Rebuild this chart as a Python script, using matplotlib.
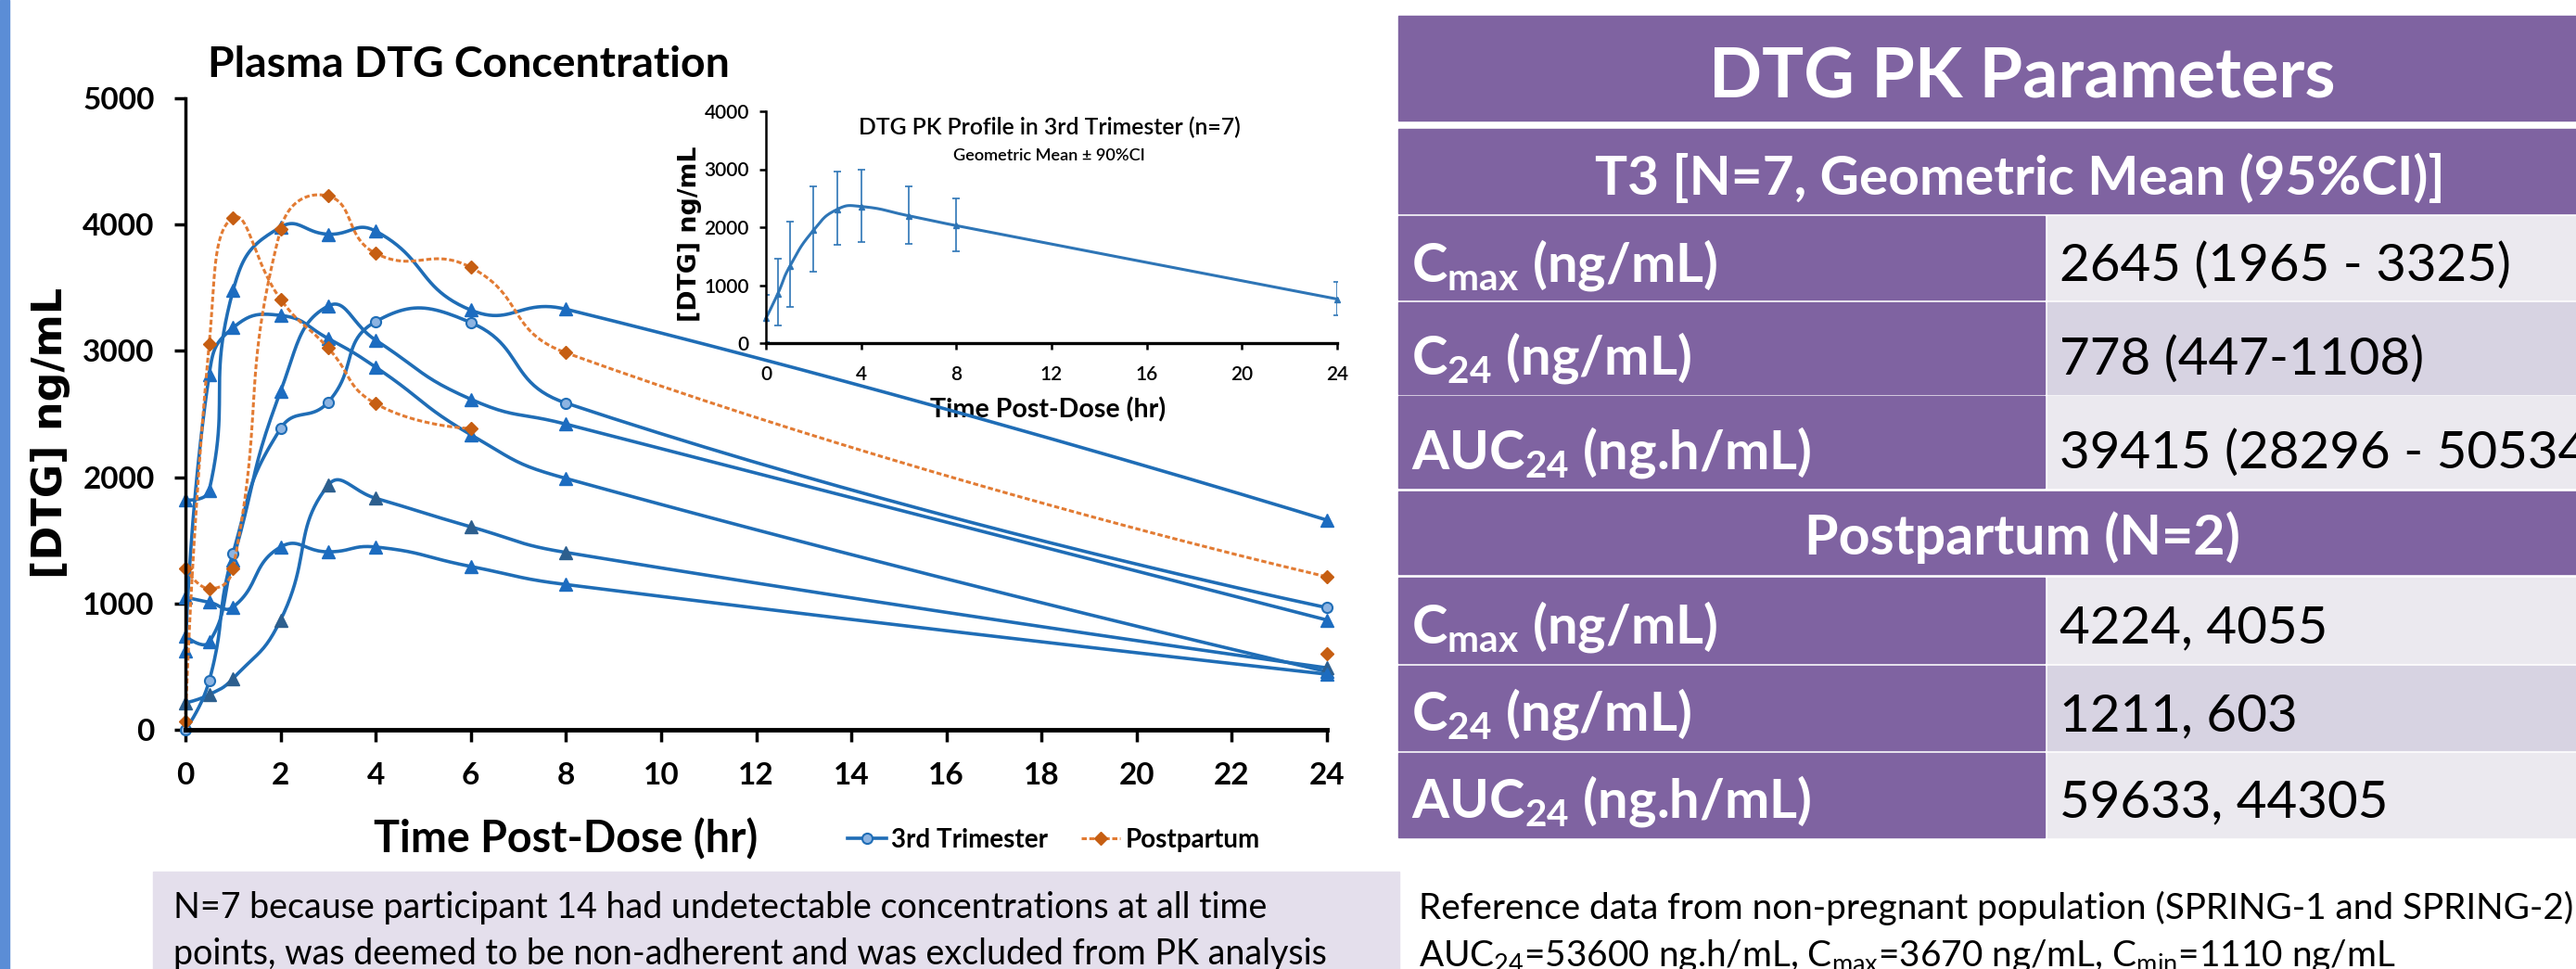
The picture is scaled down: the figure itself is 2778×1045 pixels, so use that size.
import numpy as np
import matplotlib.pyplot as plt
from matplotlib.patches import Rectangle

W, H = 2778, 1045
plt.rcParams['font.family'] = ['Lato', 'DejaVu Sans']

# ---- data
hours = [0, 0.5, 1, 2, 3, 4, 6, 8, 24]

# individual 3rd trimester profiles (ng/mL)
t3_circle = [0, 388, 1396, 2385, 2594, 3232, 3224, 2587, 967]
t3_triangles = [
    [1820, 1897, 3477, 3980, 3924, 3948, 3323, 3330, 1660],
    [625, 2815, 3183, 3281, 3098, 2871, 2336, 1990, 460],
    [740, 694, 1344, 2680, 3355, 3085, 2617, 2420, 869],
    [213, 278, 406, 869, 1936, 1833, 1607, 1404, 490],
    [1049, 1010, 972, 1447, 1409, 1447, 1293, 1150, 440],
]
# postpartum profiles (second one has no 8 h sample)
postpartum = [
    [1280, 1118, 1275, 3963, 4226, 3772, 3661, 2985, 1211],
    [64, 3055, 4054, 3409, 3023, 2582, 2385, np.nan, 603],
]

# inset: geometric mean and 90% CI
gm_t3 = [427, 853, 1323, 1947, 2309, 2357, 2197, 2027, 760]
ci_low = [20, 309, 629, 1237, 1701, 1744, 1712, 1584, 485]
ci_high = [827, 1456, 2090, 2704, 2960, 2987, 2704, 2501, 1051]

# table
table_title = "DTG PK Parameters"
group_titles = ["T3 [N=7, Geometric Mean (95%CI)]", "Postpartum (N=2)"]
param_labels = ["C$_\\mathregular{max}$ (ng/mL)", "C$_\\mathregular{24}$ (ng/mL)",
                "AUC$_\\mathregular{24}$ (ng.h/mL)"]
t3_values = ["2645 (1965 - 3325)", "778 (447-1108)", "39415 (28296 - 50534)"]
pp_values = ["4224, 4055", "1211, 603", "59633, 44305"]

note_left = ["N=7 because participant 14 had undetectable concentrations at all time",
             "points, was deemed to be non-adherent and was excluded from PK analysis"]
note_right = ["Reference data from non-pregnant population (SPRING-1 and SPRING-2)",
              "AUC$_\\mathregular{24}$=53600 ng.h/mL, C$_\\mathregular{max}$=3670 ng/mL, "
              "C$_\\mathregular{min}$=1110 ng/mL"]

BLUE = '#1F6DB6'
TRI = ['#1C6CC0', '#1C6CC0', '#1C6CC0', '#2D5F8E', '#1C6CC0']
ORANGE = '#E27B33'
ORANGE_MK = '#C65E12'
PURPLE = '#7F63A1'
CELL1 = '#EBE9EF'
CELL2 = '#D7D3E2'


def excel_smooth(x, y, sx, sy, n=24, tension=0.5):
    # bezier through the points, control arms scaled by segment length (pixel space)
    x = np.asarray(x, float)
    y = np.asarray(y, float)
    runs, cur = [], []
    for i in range(len(x)):
        if np.isnan(y[i]):
            if cur:
                runs.append(cur)
            cur = []
        else:
            cur.append(i)
    if cur:
        runs.append(cur)
    xs, ys, marks = [], [], []
    for run in runs:
        P = np.column_stack([x[run] * sx, y[run] * sy])
        m = len(P)
        before = P.copy()
        after = P.copy()
        for i in range(1, m - 1):
            d1 = np.hypot(*(P[i] - P[i - 1]))
            d2 = np.hypot(*(P[i + 1] - P[i]))
            T = P[i + 1] - P[i - 1]
            before[i] = P[i] - T * tension * d1 / (d1 + d2)
            after[i] = P[i] + T * tension * d2 / (d1 + d2)
        if xs:
            xs.append(np.nan)
            ys.append(np.nan)
        marks.append(len(xs))
        xs.append(x[run[0]])
        ys.append(y[run[0]])
        t = np.linspace(0, 1, n + 1)[1:, None]
        for i in range(m - 1):
            B = ((1 - t)**3 * P[i] + 3 * (1 - t)**2 * t * after[i]
                 + 3 * (1 - t) * t**2 * before[i + 1] + t**3 * P[i + 1])
            xs.extend(B[:, 0] / sx)
            ys.extend(B[:, 1] / sy)
            marks.append(len(xs) - 1)
    return np.array(xs), np.array(ys), marks


def px_box(x0, y0, x1, y1):
    return [x0 / W, 1 - y1 / H, (x1 - x0) / W, (y1 - y0) / H]


fig = plt.figure(figsize=(W / 100, H / 100), dpi=100)
bg = fig.add_axes([0, 0, 1, 1], zorder=0)
bg.set_xlim(0, W)
bg.set_ylim(H, 0)
bg.axis('off')
rend = fig.canvas.get_renderer()


def fit(txt, width, vertical=False):
    bb = txt.get_window_extent(rend)
    w = bb.height if vertical else bb.width
    txt.set_fontsize(txt.get_fontsize() * width / w)
    return txt


# ---- main plot
ax = fig.add_axes(px_box(200, 106, 1431, 787), zorder=1)
ax.patch.set_alpha(0)
sx, sy = 1231 / 24, 681 / 5000
for vals, mc in zip(t3_triangles, TRI):
    xs, ys, mk = excel_smooth(hours, vals, sx, sy)
    ax.plot(xs, ys, color=BLUE, lw=2.6, marker='^', ms=10, mfc=mc, mec=mc,
            markevery=mk, clip_on=False)
xs, ys, mk = excel_smooth(hours, t3_circle, sx, sy)
h_t3, = ax.plot(xs, ys, color=BLUE, lw=2.6, marker='o', ms=8, mfc='#8DB4E2',
                mec=BLUE, mew=1.5, markevery=mk, clip_on=False, label='3rd Trimester')
h_pp = None
for vals in postpartum:
    xs, ys, mk = excel_smooth(hours, vals, sx, sy)
    ln, = ax.plot(xs, ys, color=ORANGE, lw=2.2, ls=(0, (1.8, 0.9)), marker='D', ms=7,
                  mfc=ORANGE_MK, mec=ORANGE_MK, markevery=mk, clip_on=False,
                  label='Postpartum')
    if h_pp is None:
        h_pp = ln

ax.set_xlim(0, 24)
ax.set_ylim(0, 5000)
ax.set_xticks(range(0, 25, 2))
ax.set_yticks(range(0, 5001, 1000))
for s in ['top', 'right']:
    ax.spines[s].set_visible(False)
ax.spines['left'].set_linewidth(2.5)
ax.spines['bottom'].set_linewidth(3.5)
ax.tick_params(axis='x', direction='out', length=9, width=2.5, pad=16)
ax.tick_params(axis='y', direction='out', length=9, width=2.5, pad=15)
for lab in ax.get_xticklabels() + ax.get_yticklabels():
    lab.set_fontsize(24)
    lab.set_fontweight('bold')

leg = fig.legend(handles=[h_t3, h_pp], loc='center left',
                 bbox_to_anchor=(914 / W, 1 - 906 / H), ncol=2, frameon=False,
                 prop={'size': 20, 'weight': 'bold'}, handlelength=1.5,
                 handletextpad=0.2, columnspacing=1.3, borderpad=0, borderaxespad=0)

# ---- inset
ins = fig.add_axes(px_box(826, 120, 1442, 370), zorder=2)
ins.patch.set_alpha(0)
xs, ys, mk = excel_smooth(hours, gm_t3, 616 / 24, 250 / 4000)
ins.plot(xs, ys, color='#2E75B6', lw=2.2, marker='^', ms=5, markevery=mk, clip_on=False)
gm = np.array(gm_t3)
ins.errorbar(hours, gm_t3, yerr=[gm - np.array(ci_low), np.array(ci_high) - gm],
             fmt='none', ecolor='#2E75B6', elinewidth=1.2, capsize=3, capthick=1.2)
ins.set_xlim(0, 24)
ins.set_ylim(0, 4000)
ins.set_xticks(range(0, 25, 4))
ins.set_yticks(range(0, 4001, 1000))
for s in ['top', 'right']:
    ins.spines[s].set_visible(False)
ins.spines['left'].set_linewidth(1.8)
ins.spines['bottom'].set_linewidth(2.4)
ins.tick_params(direction='out', length=5, width=1.8, labelsize=15)
ins.tick_params(axis='x', pad=12)
ins.tick_params(axis='y', pad=8)
for lab in ins.get_xticklabels() + ins.get_yticklabels():
    lab.set_fontweight('semibold')

# ---- titles and axis labels
fit(bg.text(505, 83, "Plasma DTG Concentration", ha='center', va='baseline',
            fontsize=30, fontweight='bold'), 562)
fit(bg.text(610, 919, "Time Post-Dose (hr)", ha='center', va='baseline',
            fontsize=36, fontweight='bold'), 414)
fit(bg.text(55, 467, "[DTG] ng/mL", ha='center', va='center', rotation=90,
            fontsize=30, fontweight='bold', family='DejaVu Sans'), 314, vertical=True)
fit(bg.text(1132, 145, "DTG PK Profile in 3rd Trimester (n=7)", ha='center',
            va='baseline', fontsize=16, fontweight='semibold'), 413)
fit(bg.text(1131, 173, "Geometric Mean \u00b1 90%CI", ha='center', va='baseline',
            fontsize=11, fontweight='semibold'), 207)
fit(bg.text(1130, 450, "Time Post-Dose (hr)", ha='center', va='baseline',
            fontsize=16, fontweight='bold'), 255)
fit(bg.text(744, 252, "[DTG] ng/mL", ha='center', va='center', rotation=90,
            fontsize=16, fontweight='bold', family='DejaVu Sans'), 189, vertical=True)

# ---- left accent bar and note box
bg.add_patch(Rectangle((0, 0), 10, H, color='#5B8DD6'))
bg.add_patch(Rectangle((165, 940), 1344, 110, color='#E4DFEC'))
t = fit(bg.text(187, 1040, note_left[1], ha='left', va='baseline', fontsize=24), 1246)
bg.text(187, 990, note_left[0], ha='left', va='baseline', fontsize=t.get_fontsize())
t = fit(bg.text(1530, 991, note_right[0], ha='left', va='baseline', fontsize=24), 1246)
bg.text(1530, 1042, note_right[1], ha='left', va='baseline', fontsize=t.get_fontsize())

# ---- PK parameter table
x0, xs_split, x1 = 1508, 2206, 2900
rows = [(17, 130), (139, 230), (233, 323), (326, 425), (427, 526),
        (530, 619), (623, 715), (718, 809), (812, 903)]
for r in (0, 1, 5):
    top, bot = rows[r]
    bg.add_patch(Rectangle((x0, top), x1 - x0, bot - top, color=PURPLE))
body = [2, 3, 4, 6, 7, 8]
for k, r in enumerate(body):
    top, bot = rows[r]
    bg.add_patch(Rectangle((x0, top), xs_split - 1 - x0, bot - top, color=PURPLE))
    bg.add_patch(Rectangle((xs_split + 2, top), x1 - xs_split, bot - top,
                           color=CELL2 if k % 3 == 1 else CELL1))

fit(bg.text(2181, 105, table_title, ha='center', va='baseline', color='white',
            fontsize=40, fontweight='bold'), 675)
fit(bg.text(2178, 210, group_titles[0], ha='center', va='baseline', color='white',
            fontsize=30, fontweight='bold'), 915)
fit(bg.text(2181, 598, group_titles[1], ha='center', va='baseline', color='white',
            fontsize=30, fontweight='bold'), 470)

lab_size = fit(bg.text(1522, 505, param_labels[2], ha='left', va='baseline',
                       color='white', fontsize=30, fontweight='bold'), 432).get_fontsize()
val_size = fit(bg.text(2221, 303, t3_values[0], ha='left', va='baseline',
                       fontsize=30), 487).get_fontsize()
baselines = [303, 404, 505, 693, 788, 881]
for k, yb in enumerate(baselines):
    if k != 2:
        bg.text(1522, yb, param_labels[k % 3], ha='left', va='baseline', color='white',
                fontsize=lab_size, fontweight='bold')
    vals = t3_values if k < 3 else pp_values
    if k != 0:
        bg.text(2221, yb, vals[k % 3], ha='left', va='baseline', fontsize=val_size)

fig.savefig('out.png', dpi=100)
